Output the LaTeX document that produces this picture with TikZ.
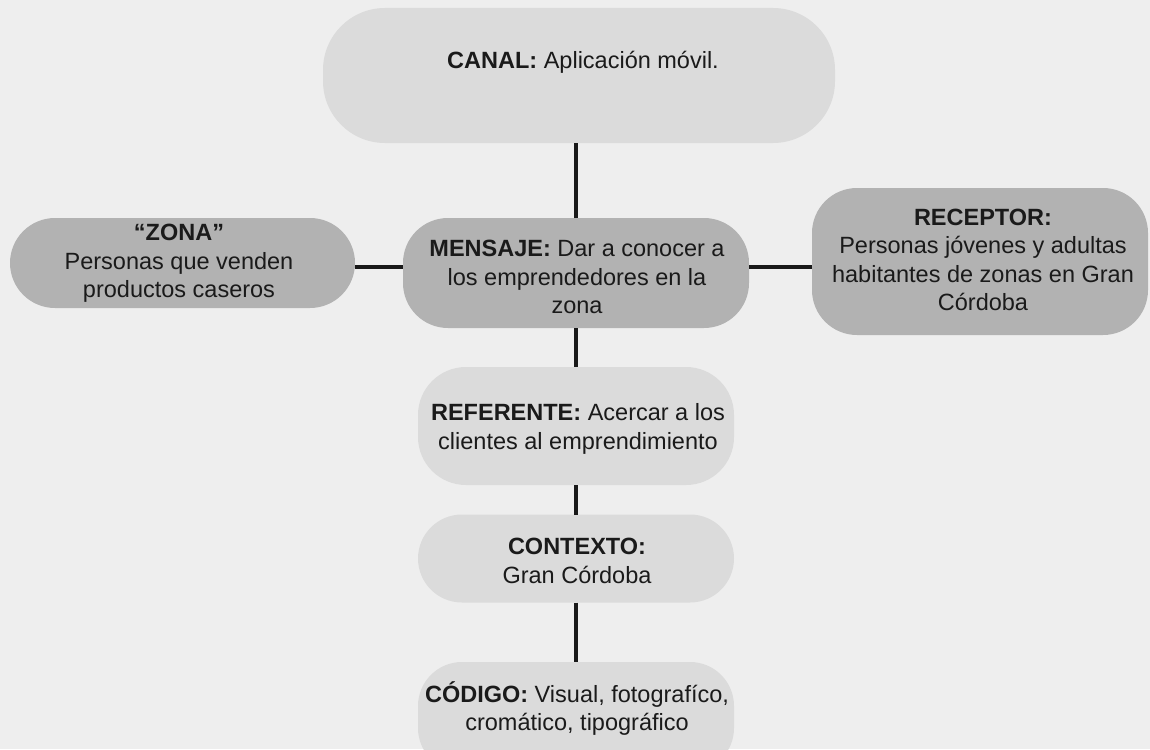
\documentclass[tikz,border=0pt]{standalone}
\usepackage{fontspec}
\setmainfont{Liberation Sans}
\definecolor{bgc}{HTML}{EEEEEE}
\definecolor{lightbox}{HTML}{DBDBDB}
\definecolor{darkbox}{HTML}{B2B2B2}
\definecolor{ink}{HTML}{1A1A1A}
\begin{document}
\begin{tikzpicture}[x=1pt,y=-1pt,
  box/.style={rectangle,inner sep=0pt,outer sep=0pt},
  lightb/.style={box,fill=lightbox},
  darkb/.style={box,fill=darkbox},
  txt/.style={inner sep=0pt,align=center,text=ink,font=\fontsize{23.5}{28.5}\selectfont},
  link/.style={line width=4.5pt,draw=black!90}]
\fill[bgc] (0,0) rectangle (1150,749);
\useasboundingbox (0,0) rectangle (1150,749);
% boxes
\node[lightb,rounded corners=62pt,minimum width=512pt,minimum height=135pt] (canal) at (579,75.5) {};
\node[darkb,rounded corners=45pt,minimum width=345pt,minimum height=90pt] (zona) at (182.5,263) {};
\node[darkb,rounded corners=45pt,minimum width=346pt,minimum height=110pt] (mensaje) at (576,273) {};
\node[darkb,rounded corners=45pt,minimum width=336pt,minimum height=147pt] (receptor) at (980,261.5) {};
\node[lightb,rounded corners=48pt,minimum width=316pt,minimum height=118pt] (referente) at (576,426) {};
\node[lightb,rounded corners=44pt,minimum width=316pt,minimum height=88pt] (contexto) at (576,558.5) {};
\node[lightb,rounded corners=44pt,minimum width=316pt,minimum height=110pt] (codigo) at (576,717) {};
% texts
\node[txt] (canal-t) at (583,62) {\textbf{CANAL:} Aplicación móvil.};
\node[txt] (zona-t) at (179,263.5) {\textbf{“ZONA”}\\Personas que venden\\productos caseros};
\node[txt] (mensaje-t) at (577,277) {\textbf{MENSAJE:} Dar a conocer a\\los emprendedores en la\\zona};
\node[txt] (receptor-t) at (983,260) {\textbf{RECEPTOR:}\\Personas jóvenes y adultas\\habitantes de zonas en Gran\\Córdoba};
\node[txt] (referente-t) at (578,429) {\textbf{REFERENTE:} Acercar a los\\clientes al emprendimiento};
\node[txt] (contexto-t) at (577,561) {\textbf{CONTEXTO:}\\Gran Córdoba};
\node[txt] (codigo-t) at (577,708.5) {\textbf{CÓDIGO:} Visual, fotografíco,\\cromático, tipográfico};
% connectors
\draw[link] (mensaje.north -| referente.north) -- (canal.south -| referente.north);
\draw[link] ([yshift=-4pt]zona.east) -- ([yshift=-4pt]zona.east -| mensaje.west);
\draw[link] ([yshift=-5.5pt]receptor.west) -- ([yshift=-5.5pt]receptor.west -| mensaje.east);
\draw[link] (mensaje.south -| referente.north) -- (referente.north);
\draw[link] (referente.south) -- (contexto.north);
\draw[link] (contexto.south) -- (codigo.north);
\end{tikzpicture}
\end{document}
